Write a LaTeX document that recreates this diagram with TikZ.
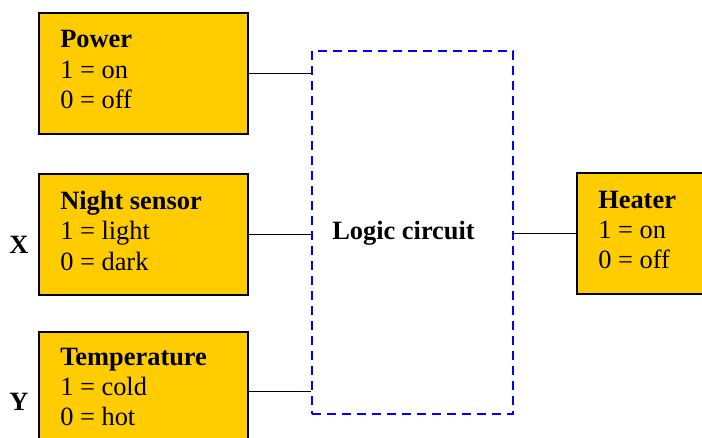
\documentclass[tikz,border=0pt]{standalone}
\usepackage{fontspec}
\setmainfont{Liberation Serif}
\definecolor{boxfill}{HTML}{FFCC00}
\definecolor{dashblue}{HTML}{0000FF}
\begin{document}
\begin{tikzpicture}[x=0.75pt,y=-0.75pt,
  inbox/.style={draw=black, line width=1.5pt, fill=boxfill, rectangle, inner sep=0pt, anchor=north west},
  lbl/.style={anchor=base west, inner sep=0pt, font=\fontsize{19.8}{22.5}\selectfont},
  wire/.style={draw=black, line width=1.1pt},
  logicbox/.style={draw=dashblue, line width=1.5pt, dash pattern=on 6.75pt off 4.5pt, rectangle, inner sep=0pt, anchor=north west}]
\useasboundingbox (0,0) rectangle (702,437);
\clip (0,0) rectangle (702,437);
% boxes
\node[inbox, minimum width=209*0.75pt, minimum height=121*0.75pt] (power) at (38,12) {};
\node[inbox, minimum width=209*0.75pt, minimum height=121*0.75pt] (night) at (38,173) {};
\node[inbox, minimum width=209*0.75pt, minimum height=119*0.75pt] (temp) at (38,331) {};
\node[inbox, minimum width=144*0.75pt, minimum height=121*0.75pt] (heater) at (576,172) {};
\node[logicbox, minimum width=201*0.75pt, minimum height=363*0.75pt] (lc) at (311,50) {};
% labels
\node[lbl] (powert) at (60,47.7) {\vtop{\baselineskip=22.8pt\hbox{\textbf{Power}}\hbox{1 = on}\hbox{0 = off}}};
\node[lbl] (nightt) at (60,209.3) {\vtop{\baselineskip=22.8pt\hbox{\textbf{Night sensor}}\hbox{1 = light}\hbox{0 = dark}}};
\node[lbl] (tempt) at (60,365) {\vtop{\baselineskip=22.8pt\hbox{\textbf{Temperature}}\hbox{1 = cold}\hbox{0 = hot}}};
\node[lbl] (heatert) at (598,208) {\vtop{\baselineskip=22.8pt\hbox{\textbf{Heater}}\hbox{1 = on}\hbox{0 = off}}};
\node[lbl] (lct) at (332,239) {\textbf{Logic circuit}};
\node[lbl] (xl) at (9,253) {\textbf{X}};
\node[lbl] (yl) at (9,410) {\textbf{Y}};
% connectors
\draw[wire] (power.east) -- (lc.west |- power.east);
\draw[wire] (night.east) -- (lc.west |- night.east);
\draw[wire] (temp.east) -- (lc.west |- temp.east);
\draw[wire] (lc.east |- heater.west) -- (heater.west);
\end{tikzpicture}
\end{document}
